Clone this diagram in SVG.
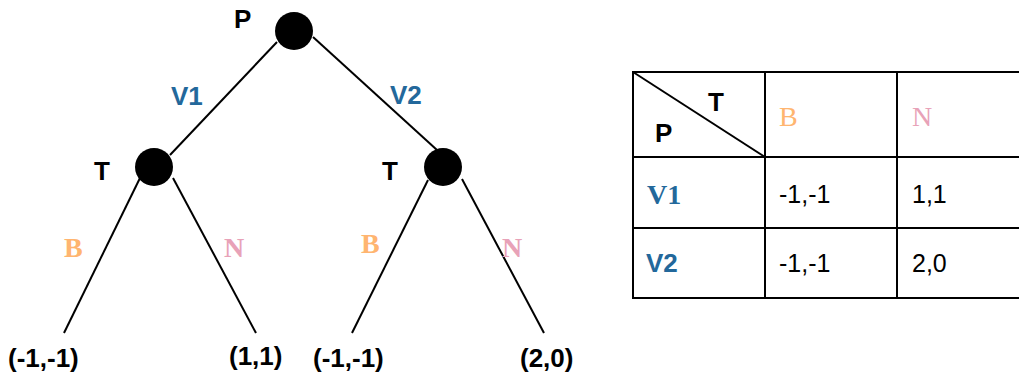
<svg xmlns="http://www.w3.org/2000/svg" width="1019" height="377" viewBox="0 0 1019 377">
<style>
.edge{stroke:#000;stroke-width:2;fill:none}
.node{fill:#000}
.lbl{font-family:"Liberation Sans",Arial,sans-serif;font-weight:bold;font-size:26px;fill:#000}
.leaf{font-family:"Liberation Sans",Arial,sans-serif;font-weight:bold;font-size:26px;fill:#000}
.blue{font-family:"Liberation Sans",Arial,sans-serif;font-weight:bold;font-size:26px;fill:#23689B}
.sb{font-family:"Liberation Serif","Times New Roman",serif;font-weight:bold;font-size:28px}
.sr{font-family:"Liberation Serif","Times New Roman",serif;font-size:28px}
.or{fill:#FFB570}
.pk{fill:#E8A2B8}
.bl{fill:#23689B}
.num{font-family:"Liberation Sans",Arial,sans-serif;font-size:25px;fill:#000}
.grid{stroke:#000;stroke-width:2;fill:none}
</style>
<rect width="1019" height="377" fill="#fff"/>
<g id="connectors">
<line class="edge" x1="277" y1="42" x2="170" y2="155"/>
<line class="edge" x1="313" y1="37" x2="437" y2="150"/>
<line class="edge" x1="140" y1="178" x2="64" y2="333"/>
<line class="edge" x1="173" y1="178" x2="256" y2="333"/>
<line class="edge" x1="428" y1="180" x2="352" y2="333"/>
<line class="edge" x1="462" y1="179" x2="544" y2="333"/>
<text class="blue" x="171" y="105">V1</text>
<text class="blue" x="390" y="104">V2</text>
<text class="sb or" x="64" y="257">B</text>
<text class="sb pk" x="224" y="257">N</text>
<text class="sb or" x="361" y="253">B</text>
<text class="sb pk" x="502" y="257">N</text>
</g>
<g id="node-P">
<circle class="node" cx="294" cy="31" r="19"/>
<text class="lbl" x="234" y="28">P</text>
</g>
<g id="node-T1">
<circle class="node" cx="154" cy="167" r="19"/>
<text class="lbl" x="94" y="180">T</text>
</g>
<g id="node-T2">
<circle class="node" cx="443" cy="167" r="19"/>
<text class="lbl" x="382" y="180">T</text>
</g>
<g id="leaf-1"><text class="leaf" x="8" y="367">(-1,-1)</text></g>
<g id="leaf-2"><text class="leaf" x="229" y="365">(1,1)</text></g>
<g id="leaf-3"><text class="leaf" x="313" y="367">(-1,-1)</text></g>
<g id="leaf-4"><text class="leaf" x="520" y="367">(2,0)</text></g>
<g id="table">
<line class="grid" x1="633" y1="72" x2="1019" y2="72"/>
<line class="grid" x1="633" y1="157" x2="1019" y2="157"/>
<line class="grid" x1="633" y1="228" x2="1019" y2="228"/>
<line class="grid" x1="633" y1="298" x2="1019" y2="298"/>
<line class="grid" x1="633" y1="71" x2="633" y2="299"/>
<line class="grid" x1="765" y1="71" x2="765" y2="299"/>
<line class="grid" x1="897" y1="71" x2="897" y2="299"/>
<line class="grid" x1="633" y1="72" x2="765" y2="157"/>
<text class="lbl" x="708" y="111">T</text>
<text class="lbl" x="655" y="142">P</text>
<text class="sr or" x="779" y="126">B</text>
<text class="sr pk" x="912" y="126">N</text>
<text class="sb bl" x="647" y="204">V1</text>
<text class="num" x="779" y="203">-1,-1</text>
<text class="num" x="912" y="203">1,1</text>
<text class="blue" x="646" y="272">V2</text>
<text class="num" x="779" y="272">-1,-1</text>
<text class="num" x="912" y="272">2,0</text>
</g>
</svg>
